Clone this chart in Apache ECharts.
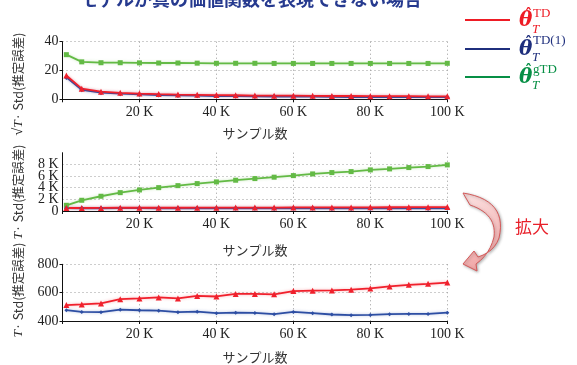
<!DOCTYPE html>
<html>
<head>
<meta charset="utf-8">
<script src="https://cdn.jsdelivr.net/npm/echarts@6/dist/echarts.min.js"></script>
<style>
  html, body { margin: 0; padding: 0; background: #fff; }
  #chart { width: 577px; height: 365px; }
</style>
</head>
<body>
<div id="chart"></div>
<script>
// Sample counts (x values shared by every panel)
const samples = [1000, 5000, 10000, 15000, 20000, 25000, 30000, 35000, 40000, 45000, 50000,
                 55000, 60000, 65000, 70000, 75000, 80000, 85000, 90000, 95000, 100000];

// sqrt(T) * Std
const sqrtStdTD  = [16.5, 7.4, 5.3, 4.5, 4.0, 3.6, 3.3, 3.1, 2.9, 2.8, 2.6, 2.5, 2.5, 2.4, 2.3, 2.3, 2.2, 2.2, 2.2, 2.1, 2.1];
const sqrtStdTD1 = [15.2, 6.6, 4.6, 3.9, 3.4, 3.0, 2.7, 2.5, 2.3, 2.2, 2.0, 1.9, 1.9, 1.8, 1.7, 1.6, 1.6, 1.5, 1.5, 1.5, 1.5];
const sqrtStdGTD = [31.0, 26.0, 25.4, 25.4, 25.3, 25.2, 25.2, 25.1, 25.0, 25.0, 25.0, 24.9, 24.9, 24.9, 24.9, 24.9, 24.9, 24.9, 24.9, 24.9, 25.0];

// T * Std
const tStdTD  = [512, 517, 524, 554, 559, 566, 559, 577, 573, 591, 591, 588, 611, 614, 616, 621, 630, 644, 655, 662, 671];
const tStdTD1 = [476, 464, 462, 480, 476, 473, 462, 466, 455, 459, 457, 448, 464, 455, 446, 441, 443, 448, 450, 450, 459];
const tStdGTD = [980, 1840, 2530, 3150, 3610, 4010, 4350, 4700, 4990, 5280, 5560, 5800, 6070, 6360, 6590, 6760, 7050, 7220, 7450, 7620, 7910];

// Axis ticks
const xTicks = { min: 0, max: 100000, interval: 20000 };
const yTicks1 = { min: 0, max: 40, interval: 20 };
const yTicks2 = { min: 0, max: 10000, interval: 2000 };
const yTicks3 = { min: 400, max: 800, interval: 200 };

const titleText = 'モデルが真の価値関数を表現できない場合';
const xName = 'サンプル数';
const enlargeText = '拡大';

const RED = '#f0202c', BLUE = '#2d4ea3', GREEN = '#63ba45';
const HALO = { RED: 'rgba(240,32,44,0.35)', BLUE: 'rgba(45,78,163,0.35)', GREEN: 'rgba(99,186,69,0.35)' };
const LEG_RED = '#ee1c25', LEG_BLUE = '#1f2f7d', LEG_GREEN = '#078f45';

const SERIF = '"Liberation Serif", "DejaVu Serif", serif';
const SANS = '"Noto Sans CJK JP", "Noto Sans", sans-serif';

const pairs = ys => samples.map((x, i) => [x, ys[i]]);

const chart = echarts.init(document.getElementById('chart'), null, { renderer: 'canvas' });

const gridPos = [
  { left: 62.5, right: 129.7, top: 41.7, height: 57.6 },
  { left: 62.5, right: 129.7, top: 152.7, height: 58.3 },
  { left: 62.5, right: 129.7, top: 264.3, height: 58 }
];
const nameGaps = [27, 33, 30];

const dottedLine = () => ({ show: true, showMinLine: false, lineStyle: { color: '#9a9a9a', width: 1, type: [1, 3] } });

const xAxes = gridPos.map((g, i) => ({
  gridIndex: i,
  type: 'value',
  min: xTicks.min, max: xTicks.max, interval: xTicks.interval,
  axisLine: { show: true, onZero: false, lineStyle: { color: '#111', width: 1 } },
  axisTick: { show: true, length: 3, lineStyle: { color: '#111' } },
  axisLabel: {
    formatter: v => v === 0 ? '' : (v / 1000) + ' K',
    fontFamily: SERIF, fontSize: 14, color: '#222', margin: 6
  },
  splitLine: dottedLine(),
  name: xName, nameLocation: 'middle', nameGap: nameGaps[i],
  nameTextStyle: { fontFamily: SANS, fontSize: 13, color: '#333' }
}));

const yLabelStyle = { fontFamily: SERIF, fontSize: 14, color: '#222', margin: 4 };

const yCommon = (i, t, fmt) => ({
  gridIndex: i,
  type: 'value',
  position: 'left',
  min: t.min, max: t.max, interval: t.interval,
  axisLine: { show: true, onZero: false, lineStyle: { color: '#111', width: 1 } },
  axisTick: { show: true, length: 3, lineStyle: { color: '#111' } },
  axisLabel: Object.assign({ formatter: fmt, showMinLabel: true }, yLabelStyle),
  splitLine: dottedLine()
});

const y1 = yCommon(0, yTicks1, v => String(v));
// Middle panel: thousands labels; the "0" sits on its own helper axis so the
// tightly packed K labels are all kept.
const y2 = yCommon(1, yTicks2, v => (v / 1000) + ' K');
y2.axisLabel.showMinLabel = false;
y2.axisLabel.showMaxLabel = false;
y2.splitLine.showMaxLine = false;
y2.axisTick.show = false;
const y2zero = {
  gridIndex: 1, type: 'value', position: 'left',
  min: yTicks2.min, max: yTicks2.max, interval: yTicks2.max - yTicks2.min,
  axisLine: { show: false }, axisTick: { show: false }, splitLine: { show: false },
  axisLabel: Object.assign({ formatter: v => v === 0 ? '0' : '', showMinLabel: true, showMaxLabel: false }, yLabelStyle)
};
const y3 = yCommon(2, yTicks3, v => String(v));

function lineSeries(grid, data, key, symbol, size) {
  const color = { RED, BLUE, GREEN }[key];
  return {
    type: 'line',
    xAxisIndex: grid, yAxisIndex: grid,
    data: pairs(data),
    symbol: symbol, symbolSize: size,
    itemStyle: { color: color },
    lineStyle: { color: color, width: 1.8, shadowColor: HALO[key], shadowBlur: 3 },
    emphasis: { disabled: true },
    z: 3
  };
}

const series = [
  lineSeries(0, sqrtStdGTD, 'GREEN', 'rect', 5),
  lineSeries(0, sqrtStdTD1, 'BLUE', 'diamond', 5),
  lineSeries(0, sqrtStdTD, 'RED', 'triangle', 6),
  lineSeries(1, tStdGTD, 'GREEN', 'rect', 5),
  lineSeries(1, tStdTD1, 'BLUE', 'diamond', 5),
  lineSeries(1, tStdTD, 'RED', 'triangle', 6),
  lineSeries(2, tStdTD1, 'BLUE', 'diamond', 4),
  lineSeries(2, tStdTD, 'RED', 'triangle', 6)
];

// Rotated y-axis titles
function yTitle(cy, withSqrt) {
  const rich = {
    s: { fontFamily: SERIF, fontSize: 14, fill: '#222' },
    t: { fontFamily: SERIF, fontStyle: 'italic', fontSize: 13.5, fill: '#222' },
    n: { fontFamily: SANS, fontSize: 12.5, fill: '#333' }
  };
  const text = (withSqrt ? '{s|√}{t|T}' : '{t|T}') + '{n|· Std(推定誤差)}';
  return {
    type: 'text', x: 18, y: cy, rotation: Math.PI / 2,
    style: { text: text, rich: rich, align: 'center', verticalAlign: 'middle' }
  };
}

// Legend entry: line sample plus theta-hat with sub/superscripts
function legendItem(ly, color, sup, thetaY, supY, subY) {
  return {
    type: 'group',
    children: [
      { type: 'line', shape: { x1: 465, y1: ly, x2: 510, y2: ly }, style: { stroke: color, lineWidth: 2.2 } },
      { type: 'text', x: 519, y: thetaY, style: { text: 'θ', fill: color, font: 'bold italic 20px "DejaVu Serif", serif', verticalAlign: 'middle' } },
      { type: 'text', x: 525, y: thetaY - 6, style: { text: 'ˆ', fill: color, font: 'bold 14px "DejaVu Serif", serif', verticalAlign: 'middle' } },
      { type: 'text', x: 533, y: supY, style: { text: sup, fill: color, font: '13px ' + SERIF, verticalAlign: 'middle' } },
      { type: 'text', x: 532, y: subY, style: { text: 'T', fill: color, font: 'italic 13px ' + SERIF, verticalAlign: 'middle' } }
    ]
  };
}

// Curved "zoom in" arrow outline, traced from quadratic segments
function quadPts(p0, c, p1, n) {
  const pts = [];
  for (let k = 1; k <= n; k++) {
    const t = k / n, u = 1 - t;
    pts.push([u * u * p0[0] + 2 * u * t * c[0] + t * t * p1[0],
              u * u * p0[1] + 2 * u * t * c[1] + t * t * p1[1]]);
  }
  return pts;
}
const arrowPts = [[463, 193]]
  .concat(quadPts([463, 193], [508, 200], [499, 238], 14))
  .concat(quadPts([499, 238], [494, 252], [478, 257], 6))
  .concat([[474, 251], [463, 264], [477, 271], [476, 264]])
  .concat(quadPts([476, 264], [490, 254], [494, 237], 6))
  .concat(quadPts([494, 237], [497, 214], [470, 205], 14));

const option = {
  animation: false,
  backgroundColor: '#fff',
  grid: gridPos,
  xAxis: xAxes,
  yAxis: [y1, y2, y3, y2zero],
  series: series,
  graphic: [
    { type: 'text', x: 251, y: -1, style: { text: titleText, fill: '#263a8f', font: 'bold 18px ' + SANS, align: 'center', verticalAlign: 'middle' } },
    yTitle(84, true),
    yTitle(192, false),
    yTitle(290, false),
    legendItem(20, LEG_RED, 'TD', 21, 14, 30),
    legendItem(49, LEG_BLUE, 'TD(1)', 49.5, 41, 58),
    legendItem(77, LEG_GREEN, 'gTD', 77.5, 70, 86),
    {
      type: 'polygon',
      shape: { points: arrowPts },
      style: {
        fill: {
          type: 'linear', x: 0, y: 0, x2: 1, y2: 1,
          colorStops: [{ offset: 0, color: '#fbe3e3' }, { offset: 1, color: '#ef9d9d' }]
        },
        stroke: '#d45a5a', lineWidth: 1,
        shadowColor: 'rgba(0,0,0,0.3)', shadowBlur: 3, shadowOffsetX: 1, shadowOffsetY: 1
      }
    },
    { type: 'text', x: 532, y: 227, style: { text: enlargeText, fill: '#e8202a', font: '17px ' + SANS, align: 'center', verticalAlign: 'middle' } }
  ]
};

chart.setOption(option);
</script>
</body>
</html>
